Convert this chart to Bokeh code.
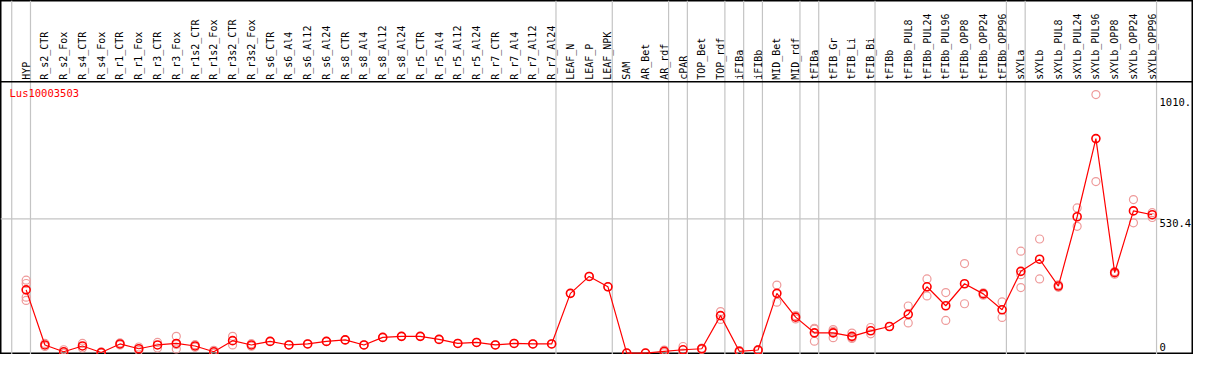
import numpy as np
from bokeh.plotting import figure
from bokeh.models import Range1d, Span
from bokeh.embed import file_html
from bokeh.resources import INLINE
from bokeh.core.properties import value

# ---------------- data ----------------
categories = [
    "HYP", "R_s2_CTR", "R_s2_Fox", "R_s4_CTR", "R_s4_Fox", "R_r1_CTR", "R_r1_Fox",
    "R_r3_CTR", "R_r3_Fox", "R_r1s2_CTR", "R_r1s2_Fox", "R_r3s2_CTR", "R_r3s2_Fox",
    "R_s6_CTR", "R_s6_Al4", "R_s6_Al12", "R_s6_Al24", "R_s8_CTR", "R_s8_Al4",
    "R_s8_Al12", "R_s8_Al24", "R_r5_CTR", "R_r5_Al4", "R_r5_Al12", "R_r5_Al24",
    "R_r7_CTR", "R_r7_Al4", "R_r7_Al12", "R_r7_Al24", "LEAF_N", "LEAF_P", "LEAF_NPK",
    "SAM", "AR_Bet", "AR_rdf", "cPAR", "TOP_Bet", "TOP_rdf", "iFIBa", "iFIBb",
    "MID_Bet", "MID_rdf", "tFIBa", "tFIB_Gr", "tFIB_Li", "tFIB_Bi", "tFIBb",
    "tFIBb_PUL8", "tFIBb_PUL24", "tFIBb_PUL96", "tFIBb_OPP8", "tFIBb_OPP24",
    "tFIBb_OPP96", "sXYLa", "sXYLb", "sXYLb_PUL8", "sXYLb_PUL24", "sXYLb_PUL96",
    "sXYLb_OPP8", "sXYLb_OPP24", "sXYLb_OPP96",
]

means = [
    250, 32, 5, 28, 2, 36, 17, 32, 38, 28, 5, 49, 32,
    46, 32, 36, 46, 52, 32, 62, 66, 66, 54, 38, 42, 32, 38, 36, 36,
    236, 303, 262,
    0, 0, 7, 13, 17, 148, 7, 12, 236, 142,
    80, 80, 66, 88, 105,
    153, 262, 187, 274, 234, 171,
    323, 371, 265, 539, 848, 318, 562, 547,
]

replicates = [
    [288, 275, 221, 208], [38, 26], [13, 0], [38, 20], [5, 0], [40, 32], [24, 10],
    [42, 20], [66, 16, 34], [33, 23], [11, 0], [66, 32], [37, 27],
    [46], [32], [36], [46], [52], [32], [62], [66], [66], [54], [38], [42],
    [32], [38], [36], [36],
    [236], [303], [262],
    [0], [0], [12, 2], [26, 0], [20, 14], [164, 133], [10, 4], [14, 10],
    [269, 201], [148, 135],
    [98, 47, 95], [93, 61, 86], [79, 58, 62], [101, 76], [105],
    [186, 119], [293, 226], [239, 129], [354, 195], [238, 229], [202, 141],
    [403, 310, 259], [451, 293], [270, 260], [574, 501], [1022, 678],
    [322, 312], [607, 515], [555, 536],
]

# index of the last category of each group (-1 = before the first)
group_ends = [-1, 0, 28, 31, 34, 35, 37, 38, 39, 41, 42, 45, 52, 53, 60]

y_ticks = [1010, 530.4, 0]
y_tick_labels = ["1010.", "530.4", "0"]
gene = "Lus10003503"

# ---------------- figure ----------------
W, H = 1193, 354
X0, X1 = -1.367, 62.2
Y0, Y1 = -5.7, 1394.0
HEADER = 1072.5

p = figure(width=W, height=H, output_backend="svg", toolbar_location=None,
           x_range=Range1d(X0, X1), y_range=Range1d(Y0, Y1),
           x_axis_type=None, y_axis_type=None, min_border=0)
p.grid.grid_line_color = None
p.outline_line_color = "black"
p.outline_line_width = 2
p.background_fill_color = "white"
p.border_fill_color = "white"

idx = np.arange(len(categories))
FONT = value("DejaVu Sans Mono")

# group separators
sep_x = [g + 0.231 for g in group_ends]
p.segment(x0=sep_x, y0=[Y0] * len(sep_x), x1=sep_x, y1=[Y1] * len(sep_x),
          line_color="#c4c4c4", line_width=1.2)

# reference line at 530.4
p.segment(x0=[X0], y0=[y_ticks[1]], x1=[60.5], y1=[y_ticks[1]],
          line_color="#c4c4c4", line_width=1.2)

# header separator
p.add_layout(Span(location=HEADER, dimension="width", line_color="black", line_width=1.5))

# category labels (vertical)
p.text(x=idx, y=[HEADER + 8] * len(idx), text=categories, angle=np.pi / 2,
       text_align="left", text_baseline="middle", text_font=FONT,
       text_font_size="10px", text_color="black")

# title (gene id)
p.text(x=[X0], y=[1027], text=[gene], x_offset=9, text_align="left",
       text_baseline="middle", text_font=FONT, text_font_size="10.5px",
       text_color="red")

# right side value labels
p.text(x=[X1, X1], y=y_ticks[:2], text=y_tick_labels[:2], x_offset=-34,
       text_align="left", text_baseline="top", text_font=FONT,
       text_font_size="10.5px", text_color="black")
p.text(x=[X1], y=[y_ticks[2]], text=[y_tick_labels[2]], x_offset=-34, y_offset=-2,
       text_align="left", text_baseline="bottom", text_font=FONT,
       text_font_size="10.5px", text_color="black")

# replicates
rx = [i for i, r in enumerate(replicates) for _ in r]
ry = [v for r in replicates for v in r]
p.scatter(rx, ry, marker="circle", size=8, fill_color=None,
          line_color="#ee9a9a", line_width=1.2)

# mean profile
p.line(idx, means, line_color="red", line_width=1.2)
p.scatter(idx, means, marker="circle", size=8, fill_color=None,
          line_color="red", line_width=1.6)

open("out.html", "w").write(file_html(p, INLINE))
